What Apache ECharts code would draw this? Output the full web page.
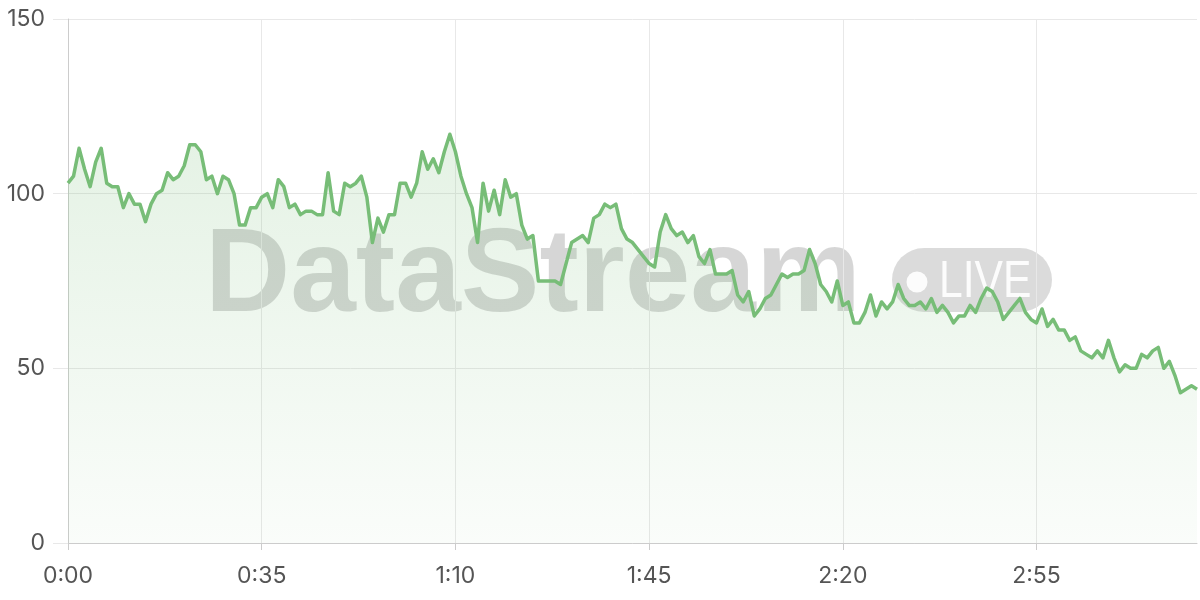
<!DOCTYPE html>
<html>
<head>
<meta charset="utf-8">
<style>
  html, body { margin: 0; padding: 0; background: #ffffff; }
  #chart { width: 1200px; height: 600px; }
</style>
<script src="https://cdn.jsdelivr.net/npm/echarts@6/dist/echarts.min.js"></script>
</head>
<body>
<div id="chart"></div>
<script>
// Series values, one per second (0:00 .. 3:24)
const values = [
  103, 105, 113, 107, 102, 109, 113, 103, 102, 102,
  96, 100, 97, 97, 92, 97, 100, 101, 106, 104,
  105, 108, 114, 114, 112, 104, 105, 100, 105, 104,
  100, 91, 91, 96, 96, 99, 100, 96, 104, 102,
  96, 97, 94, 95, 95, 94, 94, 106, 95, 94,
  103, 102, 103, 105, 99, 86, 93, 89, 94, 94,
  103, 103, 99, 103, 112, 107, 110, 106, 112, 117,
  112, 105, 100, 96, 86, 103, 95, 101, 94, 104,
  99, 100, 91, 87, 88, 75, 75, 75, 75, 74,
  80, 86, 87, 88, 86, 93, 94, 97, 96, 97,
  90, 87, 86, 84, 82, 80, 79, 89, 94, 90,
  88, 89, 86, 88, 82, 80, 84, 77, 77, 77,
  78, 71, 69, 72, 65, 67, 70, 71, 74, 77,
  76, 77, 77, 78, 84, 80, 74, 72, 69, 75,
  68, 69, 63, 63, 66, 71, 65, 69, 67, 69,
  74, 70, 68, 68, 69, 67, 70, 66, 68, 66,
  63, 65, 65, 68, 66, 70, 73, 72, 69, 64,
  66, 68, 70, 66, 64, 63, 67, 62, 64, 61,
  61, 58, 59, 55, 54, 53, 55, 53, 58, 53,
  49, 51, 50, 50, 54, 53, 55, 56, 50, 52,
  48, 43, 44, 45, 44
];

// Category labels: elapsed time m:ss for each sample
const categories = values.map(function (_, i) {
  const m = Math.floor(i / 60);
  const s = i % 60;
  return m + ':' + (s < 10 ? '0' : '') + s;
});

// Tick labels shown on the axes
const xTickLabels = ['0:00', '0:35', '1:10', '1:45', '2:20', '2:55'];
const yTickLabels = [0, 50, 100, 150];

const lineColor = '#77bd77';
const labelFont = 'Inter, "Noto Sans", "DejaVu Sans", sans-serif';

const chart = echarts.init(document.getElementById('chart'), null, { renderer: 'canvas' });

const isXTick = function (index) {
  return xTickLabels.indexOf(categories[index]) !== -1;
};

chart.setOption({
  animation: false,
  backgroundColor: '#ffffff',
  grid: { left: 68, right: 3, top: 19, bottom: 57, containLabel: false },
  xAxis: {
    type: 'category',
    data: categories,
    boundaryGap: false,
    axisLine: { show: true, lineStyle: { color: '#cccccc', width: 1 } },
    axisTick: { show: true, length: 7, interval: function (i) { return isXTick(i); }, lineStyle: { color: '#cccccc' } },
    axisLabel: {
      interval: function (i) { return isXTick(i); },
      color: '#555555', fontSize: 23, fontFamily: labelFont, margin: 22
    },
    splitLine: { show: true, interval: function (i) { return isXTick(i); }, lineStyle: { color: '#e8e8e8', width: 1 } }
  },
  yAxis: {
    type: 'value',
    min: yTickLabels[0],
    max: yTickLabels[yTickLabels.length - 1],
    interval: 50,
    axisLine: { show: true, lineStyle: { color: '#cccccc', width: 1 } },
    axisTick: { show: true, length: 15, lineStyle: { color: '#e8e8e8' } },
    axisLabel: { color: '#555555', fontSize: 23, fontFamily: labelFont, margin: 23 },
    splitLine: { show: true, lineStyle: { color: '#e8e8e8', width: 1 } }
  },
  graphic: [
    {
      type: 'text', z: 0, silent: true,
      x: 205, y: 278,
      style: {
        text: 'DataStream',
        font: 'bold 118px "Liberation Sans", Arial, sans-serif',
        fill: 'rgba(0,0,0,0.16)',
        align: 'left', verticalAlign: 'middle'
      }
    },
    {
      type: 'rect', z: 0, silent: true,
      shape: { x: 892, y: 248, width: 160, height: 64, r: 32 },
      style: { fill: 'rgba(0,0,0,0.14)' }
    },
    {
      type: 'circle', z: 0, silent: true,
      shape: { cx: 917, cy: 282, r: 10.5 },
      style: { fill: 'rgba(255,255,255,0.92)' }
    },
    {
      type: 'text', z: 0, silent: true,
      x: 939, y: 283, scaleX: 0.82, originX: 0, originY: 0,
      style: {
        text: 'LIVE',
        font: '52px "Liberation Sans", Arial, sans-serif',
        fill: 'rgba(255,255,255,0.92)',
        align: 'left', verticalAlign: 'middle'
      }
    }
  ],
  series: [{
    type: 'line',
    data: values,
    showSymbol: false,
    symbol: 'none',
    smooth: false,
    lineStyle: { color: lineColor, width: 3.5, join: 'round' },
    itemStyle: { color: lineColor },
    areaStyle: {
      color: new echarts.graphic.LinearGradient(0, 0, 0, 1, [
        { offset: 0, color: 'rgba(119,189,119,0.28)' },
        { offset: 1, color: 'rgba(119,189,119,0.05)' }
      ])
    },
    z: 2
  }]
});
</script>
</body>
</html>
